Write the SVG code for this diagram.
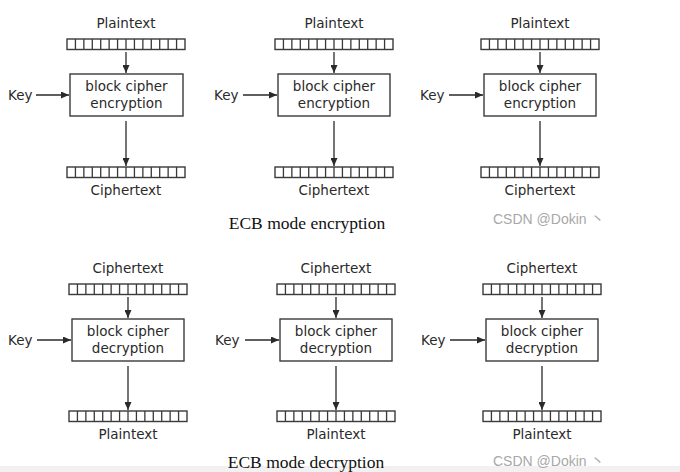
<svg xmlns="http://www.w3.org/2000/svg" xmlns:xlink="http://www.w3.org/1999/xlink" width="680" height="472" viewBox="0 0 680 472">
<style>
.t{font-family:"DejaVu Sans",sans-serif;font-size:13.5px;fill:#2a2a2a;text-anchor:middle}
.k{font-family:"DejaVu Sans",sans-serif;font-size:13.5px;fill:#2a2a2a}
.box{fill:#fff;stroke:#3a3a3a;stroke-width:1.4}
.ln{stroke:#2a2a2a;stroke-width:1.3;fill:none}
.cap{font-family:"Liberation Serif",serif;font-size:17.5px;fill:#111;text-anchor:middle}
.wm{font-family:"Liberation Sans","Noto Sans CJK SC",sans-serif;font-size:14px;fill:#a8a8a8}
</style>
<defs>
<marker id="ah" viewBox="0 0 8 7" refX="8" refY="3.5" markerWidth="8" markerHeight="7" markerUnits="userSpaceOnUse" orient="auto">
<path d="M0,0 L8,3.5 L0,7 z" fill="#2a2a2a"/>
</marker>
<g id="bar">
<rect x="0" y="0" width="118" height="10.5" fill="#fff" stroke="#3a3a3a" stroke-width="1.4"/>
<path d="M8.43,0v10.5M16.86,0v10.5M25.29,0v10.5M33.71,0v10.5M42.14,0v10.5M50.57,0v10.5M59,0v10.5M67.43,0v10.5M75.86,0v10.5M84.29,0v10.5M92.71,0v10.5M101.14,0v10.5M109.57,0v10.5" stroke="#3a3a3a" stroke-width="1.3"/>
</g>
</defs>
<rect width="680" height="472" fill="#fff"/>
<rect x="0" y="466" width="680" height="6" fill="#f1f1f1"/>

<g id="enc1">
<text class="t" x="126" y="28">Plaintext</text>
<use xlink:href="#bar" x="67" y="39"/>
<rect class="box" x="70" y="74" width="113" height="42"/>
<text class="t" x="126.5" y="91">block cipher</text>
<text class="t" x="126.5" y="108">encryption</text>
<text class="k" x="8" y="100">Key</text>
<use xlink:href="#bar" x="67" y="167"/>
<text class="t" x="126" y="195">Ciphertext</text>
</g>
<g id="enc2">
<text class="t" x="334" y="28">Plaintext</text>
<use xlink:href="#bar" x="275" y="39"/>
<rect class="box" x="278" y="74" width="112" height="42"/>
<text class="t" x="334" y="91">block cipher</text>
<text class="t" x="334" y="108">encryption</text>
<text class="k" x="214" y="100">Key</text>
<use xlink:href="#bar" x="275" y="167"/>
<text class="t" x="334" y="195">Ciphertext</text>
</g>
<g id="enc3">
<text class="t" x="540" y="28">Plaintext</text>
<use xlink:href="#bar" x="481" y="39"/>
<rect class="box" x="484" y="74" width="112" height="42"/>
<text class="t" x="540" y="91">block cipher</text>
<text class="t" x="540" y="108">encryption</text>
<text class="k" x="420" y="100">Key</text>
<use xlink:href="#bar" x="481" y="167"/>
<text class="t" x="540" y="195">Ciphertext</text>
</g>

<g id="dec1">
<text class="t" x="128" y="273">Ciphertext</text>
<use xlink:href="#bar" x="69" y="284"/>
<rect class="box" x="72" y="319" width="112" height="42"/>
<text class="t" x="128" y="336">block cipher</text>
<text class="t" x="128" y="353">decryption</text>
<text class="k" x="8" y="345">Key</text>
<use xlink:href="#bar" x="69" y="411"/>
<text class="t" x="128" y="439">Plaintext</text>
</g>
<g id="dec2">
<text class="t" x="336" y="273">Ciphertext</text>
<use xlink:href="#bar" x="277" y="284"/>
<rect class="box" x="280" y="319" width="112" height="42"/>
<text class="t" x="336" y="336">block cipher</text>
<text class="t" x="336" y="353">decryption</text>
<text class="k" x="215" y="345">Key</text>
<use xlink:href="#bar" x="277" y="411"/>
<text class="t" x="336" y="439">Plaintext</text>
</g>
<g id="dec3">
<text class="t" x="542" y="273">Ciphertext</text>
<use xlink:href="#bar" x="483" y="284"/>
<rect class="box" x="486" y="319" width="112" height="42"/>
<text class="t" x="542" y="336">block cipher</text>
<text class="t" x="542" y="353">decryption</text>
<text class="k" x="421" y="345">Key</text>
<use xlink:href="#bar" x="483" y="411"/>
<text class="t" x="542" y="439">Plaintext</text>
</g>

<g id="connectors" class="ln" marker-end="url(#ah)">
<path d="M126,52V73"/>
<path d="M126,121V166"/>
<path d="M36,95H69"/>
<path d="M334,52V73"/>
<path d="M334,121V166"/>
<path d="M243,95H277"/>
<path d="M540,52V73"/>
<path d="M540,121V166"/>
<path d="M449,95H483"/>
<path d="M128,297V318"/>
<path d="M128,366V410"/>
<path d="M37,340H71"/>
<path d="M336,297V318"/>
<path d="M336,366V410"/>
<path d="M245,340H279"/>
<path d="M542,297V318"/>
<path d="M542,366V410"/>
<path d="M450,340H485"/>
</g>

<text class="cap" x="307" y="229">ECB mode encryption</text>
<text class="wm" x="493" y="224">CSDN @Dokin 丶</text>
<text class="cap" x="306" y="468">ECB mode decryption</text>
<text class="wm" x="493" y="466">CSDN @Dokin 丶</text>
</svg>
